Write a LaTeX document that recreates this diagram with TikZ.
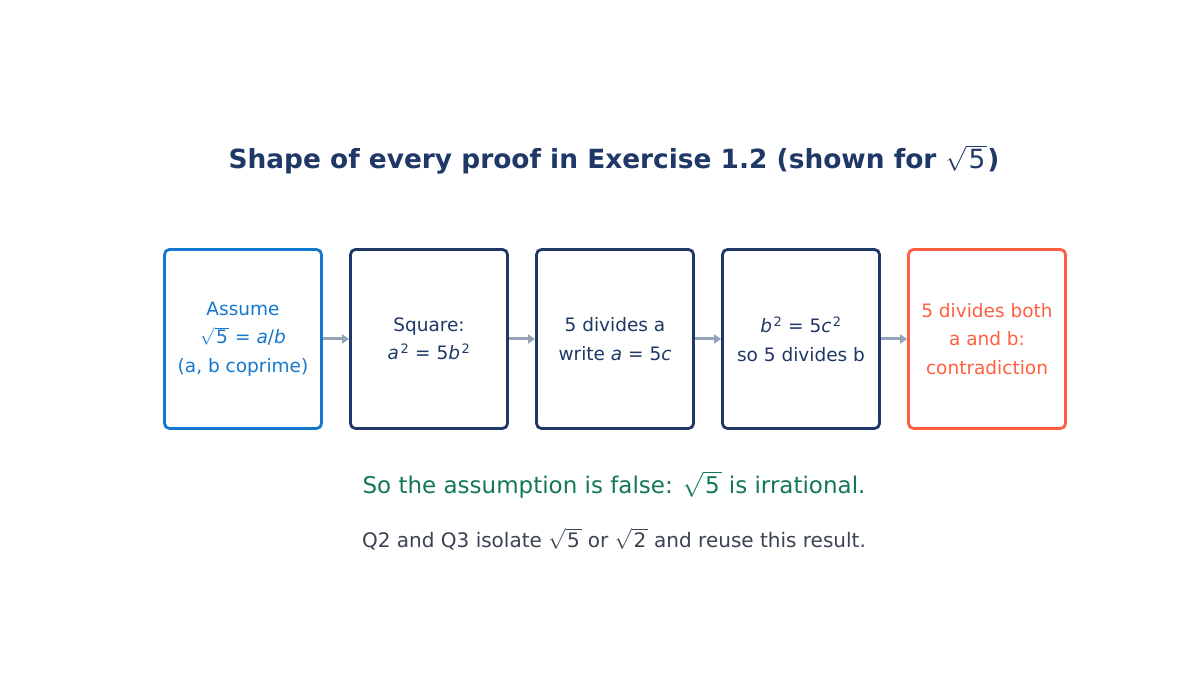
\documentclass[tikz,border=0pt]{standalone}
\usepackage{fontspec}
\setmainfont{DejaVu Sans}
\usetikzlibrary{arrows.meta}
\definecolor{navy}{HTML}{1F3868}
\definecolor{bblue}{HTML}{1478CF}
\definecolor{orng}{HTML}{FF5F3F}
\definecolor{grn}{HTML}{137858}
\definecolor{gtext}{HTML}{3B4252}
\definecolor{arr}{HTML}{94A3B8}
\newcommand\rt[1]{$\sqrt{\mbox{\kern0.08em#1\kern0.08em}}$}
\newcommand\vi[1]{{\itshape #1}}
\newcommand\eqs{\ =\ }
\newcommand\sq{\kern0.08em\textsuperscript{2}}
\begin{document}
\begin{tikzpicture}[x=1pt,y=1pt,
  stepbox/.style={draw=navy,text=navy,line width=2.8pt,rounded corners=5pt,minimum width=157pt,minimum height=179pt,align=center,font=\fontsize{18.5}{28.5}\selectfont,fill=white},
  flow/.style={draw=arr,line width=3pt,-{Triangle[length=7pt,width=9pt]}}]
\useasboundingbox (0,0) rectangle (1200,675);
\fill[white] (0,0) rectangle (1200,675);
\node[text=navy,font=\fontsize{26.4}{30}\selectfont\bfseries] (title) at (614,515) {Shape of every proof in Exercise 1.2 (shown for {\mdseries\rt{5}})};
\node[stepbox,draw=bblue,text=bblue] (b1) at (243,336) {Assume\\\rt{5}\eqs\vi{a}/\vi{b}\\(a, b coprime)};
\node[stepbox] (b2) at (429,336) {Square:\\\vi{a}\sq\eqs5\vi{b}\sq};
\node[stepbox] (b3) at (615,336) {5 divides a\\write \vi{a}\eqs5\vi{c}};
\node[stepbox] (b4) at (801,336) {\vi{b}\sq\eqs5\vi{c}\sq\\so 5 divides b};
\node[stepbox,draw=orng,text=orng] (b5) at (987,336) {5 divides both\\a and b:\\contradiction};
\draw[flow] (b1.east) -- (b2.west);
\draw[flow] (b2.east) -- (b3.west);
\draw[flow] (b3.east) -- (b4.west);
\draw[flow] (b4.east) -- (b5.west);
\node[text=grn,font=\fontsize{23}{27}\selectfont] (concl) at (614,190) {So the assumption is false: \rt{5} is irrational.};
\node[text=gtext,font=\fontsize{20}{24}\selectfont] (note) at (614,136) {Q2 and Q3 isolate \rt{5} or \rt{2} and reuse this result.};
\end{tikzpicture}
\end{document}
